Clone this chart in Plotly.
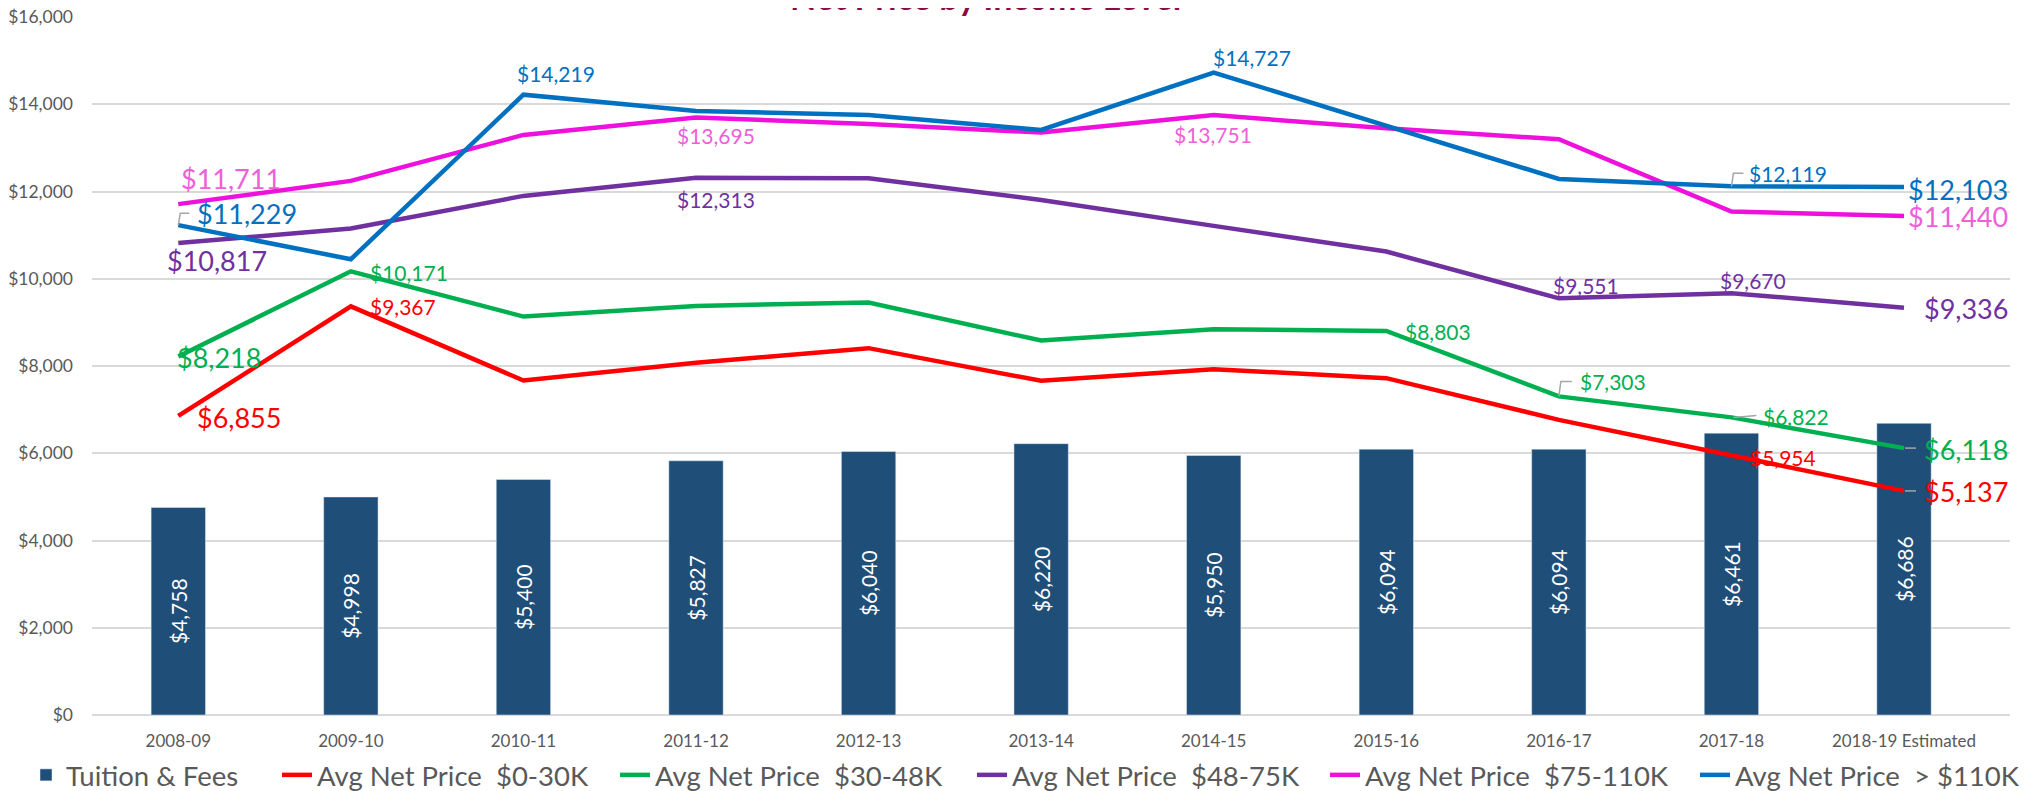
import plotly.graph_objects as go

# ---------------- data ----------------
categories = ["2008-09", "2009-10", "2010-11", "2011-12", "2012-13", "2013-14",
              "2014-15", "2015-16", "2016-17", "2017-18", "2018-19 Estimated"]
tuition_fees = [4758, 4998, 5400, 5827, 6040, 6220, 5950, 6094, 6094, 6461, 6686]
net_0_30k = [6855, 9367, 7667, 8072, 8409, 7660, 7928, 7722, 6766, 5954, 5137]
net_30_48k = [8218, 10171, 9133, 9378, 9454, 8584, 8844, 8803, 7303, 6822, 6118]
net_48_75k = [10817, 11150, 11899, 12313, 12304, 11807, 11212, 10623, 9551, 9670, 9336]
net_75_110k = [11711, 12243, 13297, 13695, 13549, 13350, 13751, 13450, 13198, 11539, 11440]
net_110k_plus = [11229, 10448, 14219, 13846, 13755, 13411, 14727, 13503, 12288, 12119, 12103]
y_tick_values = [0, 2000, 4000, 6000, 8000, 10000, 12000, 14000, 16000]
y_tick_labels = ["$0", "$2,000", "$4,000", "$6,000", "$8,000", "$10,000", "$12,000", "$14,000", "$16,000"]
series_names = ["Tuition & Fees",
                "Avg Net Price\u00a0 $0-30K",
                "Avg Net Price\u00a0 $30-48K",
                "Avg Net Price\u00a0 $48-75K",
                "Avg Net Price\u00a0 $75-110K",
                "Avg Net Price\u00a0 > $110K"]
title_text = "Net Price by Income Level"

# ---------------- styles ----------------
FONT = "Lato"
GRAY = "#595959"
GRID = "#D9D9D9"
BAR_COLOR = "#1F4E79"
line_series = [
    (net_0_30k, "#FF0000", "#FF0000"),
    (net_30_48k, "#00B050", "#00B050"),
    (net_48_75k, "#7030A0", "#7030A0"),
    (net_75_110k, "#EE11DD", "#EE5FD9"),
    (net_110k_plus, "#0070C0", "#0070C0"),
]
BIG, SMALL = 27, 21
# per series: index -> (dx px, dy px (down positive), font size)
label_layout = [
    {0: (61, 2, BIG), 1: (52, 0, SMALL), 9: (52, 2, SMALL), 10: (62, 1, BIG)},
    {0: (41, 1, BIG), 1: (58, 1, SMALL), 7: (52, 1, SMALL), 8: (54, -15, SMALL), 9: (65, -1, SMALL), 10: (62, 1, BIG)},
    {0: (39, 17, BIG), 3: (20, 22, SMALL), 8: (27, -13, SMALL), 9: (22, -13, SMALL), 10: (62, 1, BIG)},
    {0: (53, -26, BIG), 3: (20, 18, SMALL), 6: (-1, 19, SMALL), 10: (54, 1, BIG)},
    {0: (69, -12, BIG), 2: (33, -21, SMALL), 6: (38, -15, SMALL), 9: (57, -13, SMALL), 10: (54, 2, BIG)},
]
# leader lines: (series idx, point idx, svg path in px relative to point, +y up)
leaders = [
    (4, 0, "M0,0 L2,12 L11,12"),
    (4, 9, "M0,0 L2,13 L12,13"),
    (1, 8, "M0,0 L2,15 L13,15"),
    (1, 9, "M2,0 L25,2"),
    (1, 10, "M1,0 L12,0"),
    (0, 10, "M1,0 L12,0"),
]

fig = go.Figure()
fig.add_trace(go.Bar(
    x=categories, y=tuition_fees, name=series_names[0], marker_color=BAR_COLOR,
    texttemplate="$%{y:,}", textposition="inside", insidetextanchor="middle",
    textangle=-90, constraintext="none", textfont=dict(family=FONT, size=21, color="white"),
    legend="legend",
))
for k, (vals, lc, _) in enumerate(line_series):
    fig.add_trace(go.Scatter(
        x=categories, y=vals, name=series_names[k + 1], mode="lines",
        line=dict(color=lc, width=4.5), legend="legend%d" % (k + 2),
    ))

annotations = []
for k, (vals, lc, tc) in enumerate(line_series):
    for i, (dx, dy, fs) in label_layout[k].items():
        annotations.append(dict(
            x=categories[i], y=vals[i], xref="x", yref="y", text="${:,}".format(vals[i]),
            showarrow=False, xanchor="center", yanchor="middle", xshift=dx, yshift=-dy,
            font=dict(family=FONT, size=fs, color=tc)))
annotations.append(dict(
    x=0.466, y=0.997, xref="paper", yref="paper", text="<b>%s</b>" % title_text,
    showarrow=False, xanchor="center", yanchor="bottom",
    font=dict(family=FONT, size=34, color="#8E0A44")))

shapes = []
for k, i, path in leaders:
    vals = line_series[k][0]
    shapes.append(dict(type="path", xref="x", yref="y", xsizemode="pixel", ysizemode="pixel",
                       xanchor=categories[i], yanchor=vals[i], path=path,
                       line=dict(color="#A6A6A6", width=1.5)))

# page geometry (the html body adds an 8px margin around the figure)
BODY = 8
PAGE_W, PAGE_H = 2042, 791
W, H = PAGE_W - BODY, PAGE_H - BODY
plot_left, plot_right, plot_top, plot_bottom = 92, 2010, 17, 715   # page px
L, T = plot_left - BODY, plot_top - BODY
R = W - (plot_right - BODY)
B = H - (plot_bottom - BODY)
PW = W - L - R
PH = H - T - B
legend_text_starts = [66, 317, 655, 1012, 1365, 1735]   # page px
LEGEND_TEXT_OFFSET = 40
legend_y_px = 775   # page px
leg = {}
for n, px in enumerate(legend_text_starts):
    key = "legend" if n == 0 else "legend%d" % (n + 1)
    leg[key] = dict(x=(px - BODY - LEGEND_TEXT_OFFSET - L) / PW,
                    y=(H - B - (legend_y_px - BODY)) / PH,
                    xanchor="left", yanchor="middle",
                    orientation="h", font=dict(family=FONT, size=27.5, color=GRAY),
                    bgcolor="rgba(0,0,0,0)")

fig.update_layout(
    width=W, height=H, margin=dict(l=L, r=R, t=T, b=B, pad=0, autoexpand=False),
    paper_bgcolor="white", plot_bgcolor="white",
    bargap=0.685, showlegend=True,
    annotations=annotations, shapes=shapes,
    font=dict(family=FONT, color=GRAY),
    **leg,
)
fig.update_xaxes(type="category", showgrid=False, showline=False, ticks="", automargin=False,
                 tickfont=dict(family=FONT, size=17, color=GRAY), ticklabelstandoff=14)
fig.update_yaxes(range=[0, 16000], tickvals=y_tick_values, ticktext=y_tick_labels, automargin=False,
                 showgrid=True, gridcolor=GRID, gridwidth=1.5, zeroline=True, zerolinecolor=GRID,
                 zerolinewidth=1.5, showline=False, ticks="", ticklabeloverflow="allow",
                 tickfont=dict(family=FONT, size=17.5, color=GRAY), ticklabelstandoff=18)

fig.write_html("out.html")
